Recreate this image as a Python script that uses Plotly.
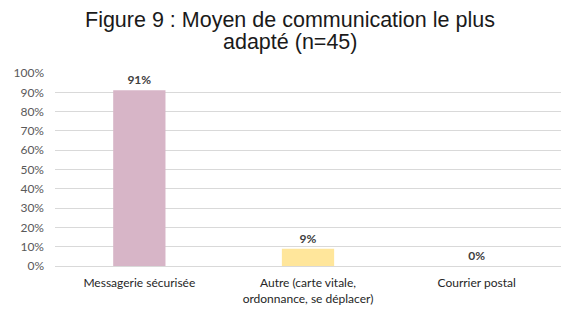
import plotly.graph_objects as go

categories = ["Messagerie sécurisée", "Autre (carte vitale,<br>ordonnance, se déplacer)", "Courrier postal"]
values = [0.91, 0.09, 0.0]
labels = ["91%", "9%", "0%"]
colors = ["#D7B5C7", "#FFE69B", "#BDD7EE"]
tick_vals = [0, 0.1, 0.2, 0.3, 0.4, 0.5, 0.6, 0.7, 0.8, 0.9, 1.0]
tick_text = ["0%", "10%", "20%", "30%", "40%", "50%", "60%", "70%", "80%", "90%", "100%"]
title_lines = ["Figure 9 : Moyen de communication le plus", "adapté (n=45)"]

fig = go.Figure(go.Bar(
    x=categories, y=values, marker=dict(color=colors, line=dict(width=0)),
    text=labels, textposition="outside", cliponaxis=False,
    textfont=dict(family="Lato", size=12, color="#404040", weight="bold"),
    width=0.31,
))
title_font = dict(family="Liberation Sans", size=21.5, color="#1a1a1a")
fig.update_layout(
    width=579, height=311, margin=dict(l=55, r=18, t=73, b=45),
    paper_bgcolor="white", plot_bgcolor="white",
    showlegend=False,
    bargap=0.69,
    annotations=[
        dict(text=title_lines[0], xref="paper", yref="paper", x=0.464, y=1.202,
             xanchor="center", yanchor="bottom", showarrow=False, font=title_font),
        dict(text=title_lines[1], xref="paper", yref="paper", x=0.464, y=1.088,
             xanchor="center", yanchor="bottom", showarrow=False, font=title_font),
    ],
)
fig.update_yaxes(range=[0, 1.0], tickvals=tick_vals, ticktext=tick_text,
                 showgrid=True, gridcolor="#D9D9D9", gridwidth=1,
                 zeroline=False, showline=False, ticks="", ticklen=0,
                 ticklabelstandoff=10, automargin=False,
                 tickfont=dict(family="Lato", size=12, color="#595959"))
fig.update_xaxes(showline=True, linecolor="#D9D9D9", ticks="",
                 ticklabelstandoff=6, automargin=False,
                 tickfont=dict(family="Lato", size=12, color="#262626"))
fig.write_html("out.html")
